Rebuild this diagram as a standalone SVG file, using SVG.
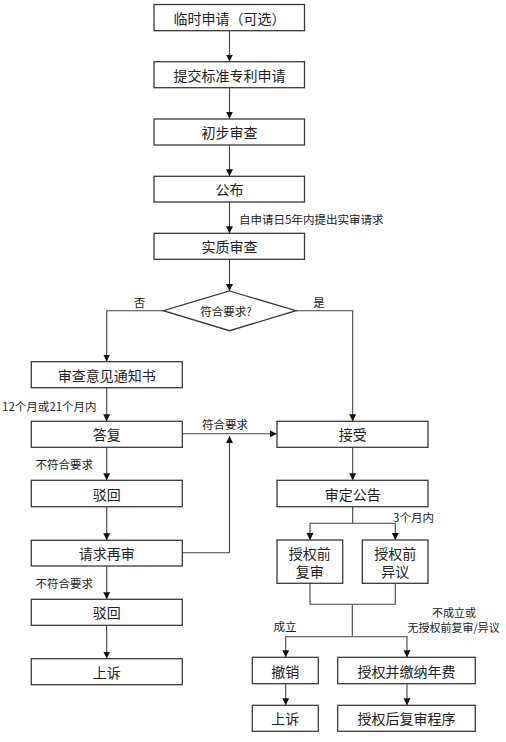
<svg xmlns="http://www.w3.org/2000/svg" width="506" height="742" viewBox="0 0 506 742">
<defs>
<marker id="ah" markerWidth="8" markerHeight="8" refX="7" refY="4" orient="auto" markerUnits="userSpaceOnUse">
<path d="M0,0.5 L7,4 L0,7.5 Z" fill="#111"/>
</marker>
<style>
.box{fill:#fff;stroke:#3a3a3a;stroke-width:1.3}
.t{font-family:"Noto Sans CJK SC","Microsoft YaHei",sans-serif;font-size:14px;fill:#222;text-anchor:middle;dominant-baseline:central}
.l{font-family:"Noto Sans CJK SC","Microsoft YaHei",sans-serif;font-size:11.5px;fill:#222;dominant-baseline:central}
.c{fill:none;stroke:#444;stroke-width:1.1}
.a{marker-end:url(#ah)}
</style>
</defs>
<rect width="506" height="742" fill="#fff"/>
<g id="connectors">
<path class="c a" d="M229.5,30.7 V61.5"/>
<path class="c a" d="M229.5,87.7 V118.8"/>
<path class="c a" d="M229.5,145 V176.2"/>
<path class="c a" d="M229.5,202 V233.2"/>
<path class="c a" d="M229.5,259.3 V291"/>
<path class="c a" d="M163.3,310.7 H106.7 V361.5"/>
<path class="c a" d="M296,310.7 H352.7 V421.2"/>
<path class="c a" d="M106.7,387.7 V421.2"/>
<path class="c a" d="M182.3,433.8 H276.8"/>
<path class="c a" d="M182.3,552.7 H229.5 V436"/>
<path class="c a" d="M106.7,447.3 V480.2"/>
<path class="c a" d="M106.7,506.7 V540.2"/>
<path class="c a" d="M106.7,566 V599.2"/>
<path class="c a" d="M106.7,625.3 V658.5"/>
<path class="c a" d="M352.7,447.3 V480.2"/>
<path class="c" d="M352.7,506.7 V523.3"/>
<path class="c a" d="M352.7,523.3 H310 V540"/>
<path class="c a" d="M352.7,523.3 H395.3 V540"/>
<path class="c" d="M310,583.3 V604.3 H395.3 V583.3"/>
<path class="c" d="M352.3,604.3 V636.7"/>
<path class="c a" d="M352.3,636.7 H285.7 V657.2"/>
<path class="c a" d="M352.3,636.7 H407 V657.2"/>
<path class="c a" d="M285.7,683.7 V705.2"/>
<path class="c a" d="M407,683.7 V705.2"/>
</g>
<g id="labels">
<text class="l" x="239" y="219">自申请日5年内提出实审请求</text>
<text class="l" x="139.5" y="302" text-anchor="middle">否</text>
<text class="l" x="319" y="302" text-anchor="middle">是</text>
<text class="l" x="2" y="405.7">12个月或21个月内</text>
<text class="l" x="225" y="423.5" text-anchor="middle">符合要求</text>
<text class="l" x="35.5" y="464">不符合要求</text>
<text class="l" x="35.5" y="583.3">不符合要求</text>
<text class="l" x="393" y="517.3">3个月内</text>
<text class="l" x="285" y="625.7" text-anchor="middle">成立</text>
<text class="l" x="454" y="611.8" text-anchor="middle" style="font-size:11px">不成立或</text>
<text class="l" x="453.7" y="627.2" text-anchor="middle" style="font-size:11px">无授权前复审/异议</text>
</g>
<g id="n1"><rect class="box" x="154" y="4.5" width="150.5" height="26.2"/><text class="t" x="229.5" y="17.6">临时申请（可选）</text></g>
<g id="n2"><rect class="box" x="154" y="61.7" width="150.5" height="26"/><text class="t" x="229.5" y="74.7">提交标准专利申请</text></g>
<g id="n3"><rect class="box" x="154" y="119" width="150.5" height="26"/><text class="t" x="229.5" y="132">初步审查</text></g>
<g id="n4"><rect class="box" x="154" y="176.3" width="150.5" height="25.7"/><text class="t" x="229.5" y="189.2">公布</text></g>
<g id="n5"><rect class="box" x="154" y="233.3" width="150.5" height="26"/><text class="t" x="229.5" y="246.3">实质审查</text></g>
<g id="d1"><path class="box" d="M229.5,291 L296,310.7 L229.5,330.7 L163.3,310.7 Z"/><text class="t" x="226" y="310.7" style="font-size:11.5px">符合要求?</text></g>
<g id="n6"><rect class="box" x="31.3" y="361.7" width="151" height="26"/><text class="t" x="106.7" y="374.7">审查意见通知书</text></g>
<g id="n7"><rect class="box" x="31.3" y="421.3" width="151" height="26"/><text class="t" x="106.7" y="434.3">答复</text></g>
<g id="n8"><rect class="box" x="277" y="421.3" width="151" height="26"/><text class="t" x="352.7" y="434.3">接受</text></g>
<g id="n9"><rect class="box" x="31.3" y="480.3" width="151" height="26.4"/><text class="t" x="106.7" y="493.5">驳回</text></g>
<g id="n10"><rect class="box" x="277" y="480.3" width="151" height="26.4"/><text class="t" x="352.7" y="493.5">审定公告</text></g>
<g id="n11"><rect class="box" x="31.3" y="540.3" width="151" height="25.7"/><text class="t" x="106.7" y="553.2">请求再审</text></g>
<g id="n12"><rect class="box" x="277" y="540" width="65.7" height="43.3"/><text class="t" x="309.8" y="552.7">授权前</text><text class="t" x="309.8" y="571">复审</text></g>
<g id="n13"><rect class="box" x="362.3" y="540" width="65.7" height="43.3"/><text class="t" x="395.2" y="552.7">授权前</text><text class="t" x="395.2" y="571">异议</text></g>
<g id="n14"><rect class="box" x="31.3" y="599.3" width="151" height="26"/><text class="t" x="106.7" y="612.3">驳回</text></g>
<g id="n15"><rect class="box" x="31.3" y="658.7" width="151" height="26"/><text class="t" x="106.7" y="671.7">上诉</text></g>
<g id="n16"><rect class="box" x="252.3" y="657.3" width="66" height="26.4"/><text class="t" x="285.3" y="670.5">撤销</text></g>
<g id="n17"><rect class="box" x="337.7" y="657.3" width="137.6" height="26.4"/><text class="t" x="406.5" y="670.5">授权并缴纳年费</text></g>
<g id="n18"><rect class="box" x="252.3" y="705.3" width="66" height="26"/><text class="t" x="285.3" y="718.3">上诉</text></g>
<g id="n19"><rect class="box" x="337.7" y="705.3" width="137.6" height="26"/><text class="t" x="406.5" y="718.3">授权后复审程序</text></g>
</svg>
